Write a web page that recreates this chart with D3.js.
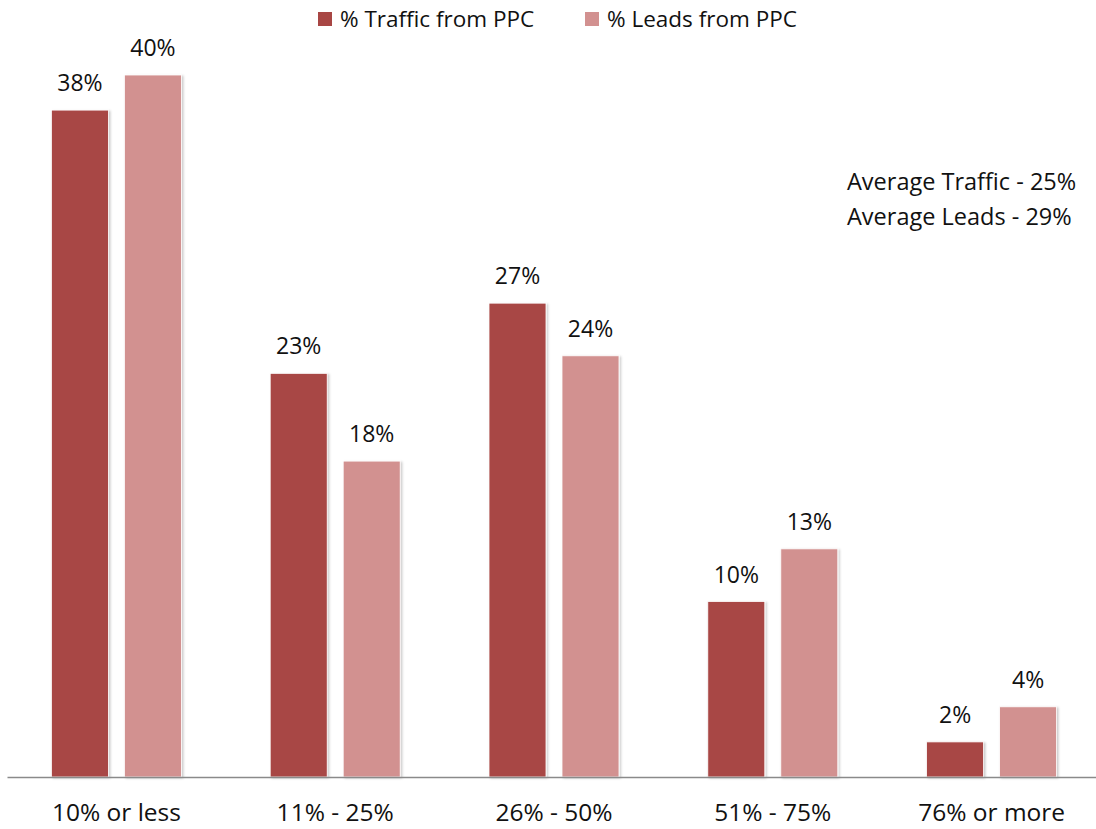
<!DOCTYPE html>
<html>
<head>
<meta charset="utf-8">
<script src="https://cdn.jsdelivr.net/npm/d3@7/dist/d3.min.js"></script>
<style>
  html, body { margin: 0; padding: 0; background: #fff; }
  svg { display: block; font-family: "Open Sans", "Noto Sans", sans-serif; }
</style>
</head>
<body>
<svg id="chart" width="1096" height="829"></svg>
<script>
// Share of PPC traffic buckets
const categories = ["10% or less", "11% - 25%", "26% - 50%", "51% - 75%", "76% or more"];
const seriesNames = ["% Traffic from PPC", "% Leads from PPC"];
const trafficValues = [38, 23, 27, 10, 2];
const leadsValues = [40, 18, 24, 13, 4];
const notes = ["Average Traffic - 25%", "Average Leads - 29%"];

const colors = ["#A84644", "#D29190"];
const seriesValues = [trafficValues, leadsValues];

const svg = d3.select("#chart");
const W = 1096, H = 829;
const baseY = 777;

// soft shadow under each bar
const defs = svg.append("defs");
const f = defs.append("filter").attr("id", "barShadow")
  .attr("x", "-20%").attr("y", "-20%").attr("width", "140%").attr("height", "140%");
f.append("feDropShadow").attr("dx", 1.5).attr("dy", 1).attr("stdDeviation", 1.2)
  .attr("flood-color", "#000").attr("flood-opacity", 0.22);

const x = d3.scaleBand().domain(categories).range([7, 1101]).paddingInner(0).paddingOuter(0);
const bw = x.bandwidth();
const xs = d3.scaleBand().domain(d3.range(seriesNames.length))
  .range([bw / 2 - 65, bw / 2 + 65]).paddingInner(16 / 73).paddingOuter(0);
const y = d3.scaleLinear().domain([0, 40]).range([baseY, 75]);

const rows = categories.map((c, i) => ({ cat: c, vals: seriesValues.map(s => s[i]) }));

const groups = svg.append("g").selectAll("g").data(rows).join("g")
  .attr("transform", d => `translate(${x(d.cat)},0)`);

groups.selectAll("rect").data(d => d.vals.map((v, k) => ({ v, k }))).join("rect")
  .attr("x", d => xs(d.k))
  .attr("width", xs.bandwidth())
  .attr("y", d => y(d.v))
  .attr("height", d => baseY - y(d.v))
  .attr("fill", d => colors[d.k])
  .attr("stroke", "#fff").attr("stroke-width", 0.8)
  .attr("filter", "url(#barShadow)");

groups.selectAll("text.val").data(d => d.vals.map((v, k) => ({ v, k }))).join("text")
  .attr("class", "val")
  .attr("x", d => xs(d.k) + xs.bandwidth() / 2)
  .attr("y", d => y(d.v) - 19)
  .attr("text-anchor", "middle")
  .attr("font-size", 23)
  .attr("fill", "#111")
  .text(d => d.v + "%");

// baseline axis
const xAxis = d3.axisBottom(x).tickSize(0).tickPadding(27);
const ax = svg.append("g").attr("transform", `translate(0,${baseY})`).call(xAxis);
ax.select(".domain").attr("stroke", "#8a8a8a").attr("stroke-width", 1.5);
ax.selectAll(".tick text").attr("font-size", 24.5).attr("fill", "#111")
  .attr("font-family", "'Open Sans', 'Noto Sans', sans-serif").attr("dy", "0.71em");

// legend
const legendX = [318, 585];
const lg = svg.append("g");
seriesNames.forEach((name, i) => {
  lg.append("rect").attr("x", legendX[i]).attr("y", 12).attr("width", 14).attr("height", 14)
    .attr("fill", colors[i]);
  lg.append("text").attr("x", legendX[i] + 22).attr("y", 27)
    .attr("font-size", 22.5).attr("fill", "#111").text(name);
});

// averages note
svg.append("g").selectAll("text").data(notes).join("text")
  .attr("x", 847).attr("y", (d, i) => 190 + i * 35)
  .attr("font-size", 23.5).attr("fill", "#111").text(d => d);
</script>
</body>
</html>
